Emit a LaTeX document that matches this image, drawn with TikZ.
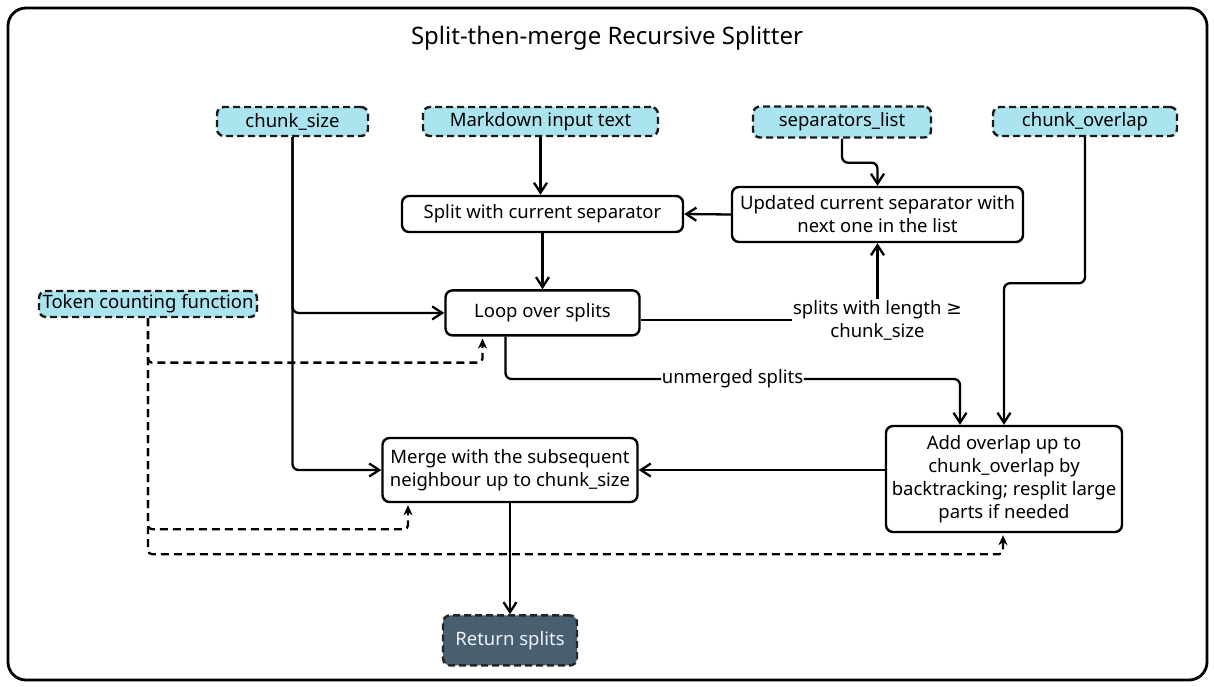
\documentclass[tikz,border=0pt]{standalone}
\usepackage{fontspec}
\setmainfont{Noto Sans}
\newfontfamily\symfont{DejaVu Sans}
\usetikzlibrary{positioning, arrows.meta, calc}
\definecolor{paramfill}{HTML}{A9E4EF}
\definecolor{paramline}{HTML}{1A1A1A}
\definecolor{resultfill}{HTML}{475F70}
\definecolor{resulttext}{HTML}{EEF2F5}
\tikzset{
  base/.style={
    draw,
    rounded corners=7pt,
    align=center,
    font=\fontsize{18.5}{23}\selectfont,
    inner sep=2pt,
    line width=2.4pt,
  },
  param/.style={base, fill=paramfill, draw=paramline, dash pattern=on 7pt off 4pt},
  proc/.style={base, fill=white, draw=black},
  result/.style={base, fill=resultfill, draw=black!85, text=resulttext, dash pattern=on 7pt off 4pt},
  arr/.style={-{Straight Barb[length=10pt, width=13pt]}, line width=2.3pt, rounded corners=6pt},
  dasharr/.style={-{Stealth[length=10pt, width=9pt]}, line width=2.3pt, dash pattern=on 8pt off 5pt, rounded corners=4pt},
  edgelbl/.style={fill=white, inner sep=0.5pt, align=center, font=\fontsize{18.5}{23}\selectfont},
}

\begin{document}
\begin{tikzpicture}[x=1pt, y=-1pt]
\useasboundingbox (0,0) rectangle (1214,686);

% Frame and title
\draw[line width=2.8pt, rounded corners=18pt] (8,8) rectangle (1207,680);
\node[font=\fontsize{24}{28}\selectfont] (title) at (607,38) {Split-then-merge Recursive Splitter};

% Inputs (top row)
\node[param, minimum width=151pt, minimum height=29pt] (csize) at (292.5,121.5) {chunk\_size};
\node[param, minimum width=235pt, minimum height=29pt] (mdtext) at (540.5,121.5) {Markdown input text};
\node[param, minimum width=178pt, minimum height=31pt] (seplist) at (842,122) {separators\_list};
\node[param, minimum width=184pt, minimum height=29pt] (coverlap) at (1085,121.5) {chunk\_overlap};
\node[param, minimum width=218pt, minimum height=26pt, inner xsep=0pt] (tokfn) at (148,304) {Token counting function};

% Processing steps
\node[proc, minimum width=281pt, minimum height=36pt] (split) at (542.5,214) {Split with current separator};
\node[proc, minimum width=291pt, minimum height=55pt] (update) at (877.5,214.5) {Updated current separator with\\next one in the list};
\node[proc, minimum width=194pt, minimum height=45pt, below=56pt of split] (loop) {Loop over splits};
\node[proc, minimum width=255pt, minimum height=64pt] (merge) at (510,470) {Merge with the subsequent\\neighbour up to chunk\_size};
\node[proc, minimum width=236pt, minimum height=106pt] (overlap) at (1004,479) {Add overlap up to\\chunk\_overlap by\\backtracking; resplit large\\parts if needed};

% Output
\node[result, minimum width=134pt, minimum height=50pt, below=111pt of merge] (ret) {Return splits};

% Edge labels
\node[edgelbl] (lenlbl) at (877.5,320) {splits with length {\symfont ≥}\\chunk\_size};
\node[edgelbl] (umlbl) at (732.5,379) {unmerged splits};

% --- Flow arrows -------------------------------------------------------
\draw[arr] (mdtext.south) -- (mdtext.south |- split.north);
\draw[arr] (split.south) -- (loop.north);
\draw[arr] (seplist.south) -- ++(0,24) -| (update.north);
\draw[arr] (update.west) -- (split.east);
\draw[arr] (loop.east |- lenlbl) -- (lenlbl) -- (update.south);
\draw[arr] ($(loop.south)+(-37,0)$) |- (umlbl) -| ($(overlap.north)+(-44,0)$);
\draw[arr] (coverlap.south) -- ++(0,146) -| (overlap.north);
\draw[arr] (csize.south) |- (loop.west);
\draw[arr] (csize.south) |- (merge.west);
\draw[arr] (overlap.west |- merge) -- (merge.east);
\draw[arr] (merge.south) -- (ret.north);

% --- Token counting (dashed) -------------------------------------------
\draw[dasharr] (tokfn.south) |- ($(loop.south)+(-60,26)$) -- ($(loop.south)+(-60,2)$);
\draw[dasharr] (tokfn.south) |- ($(merge.south)+(-102,26)$) -- ($(merge.south)+(-102,2)$);
\draw[dasharr] (tokfn.south) |- ($(overlap.south)+(-1,21)$) -- ($(overlap.south)+(-1,2)$);

\end{tikzpicture}
\end{document}
